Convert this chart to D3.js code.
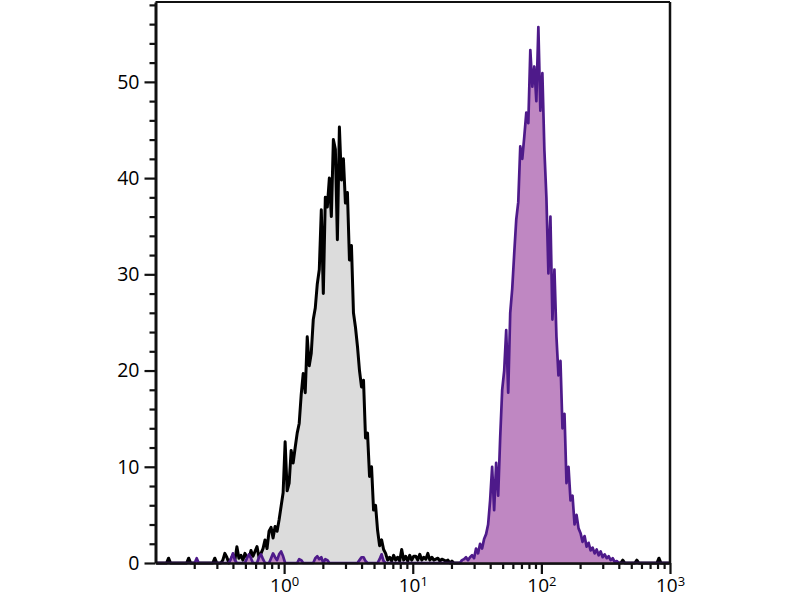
<!DOCTYPE html>
<html>
<head>
<meta charset="utf-8">
<script src="https://cdn.jsdelivr.net/npm/d3@7"></script>
<style>
  html, body { margin: 0; padding: 0; background: #fff; }
  svg { display: block; }
</style>
</head>
<body>
<svg id="chart" width="800" height="600"></svg>
<script>
// 256-channel log histogram spanning 10^-1 .. 10^3
const channelCount = 256;
const logMin = -1;
const logMax = 3;

const yMajorTicks = [0, 10, 20, 30, 40, 50];
const xDecadeTicks = [1, 10, 100, 1000];
const xDecadeExponents = ["0", "1", "2", "3"];

// Isotype control (black outline, grey fill), counts per channel
const controlCounts = [
  0,0,0,0,0,0,0.5,0,0,0,0,0,0,0,0,0,
  0.5,0,0,0,0,0,0,0,0,0,0,0,0,0.5,0,0,
  0,0.3,1.0,0.6,0,0.4,0.8,0.3,1.7,0.5,0.8,0.3,1.0,0.6,0.4,1.3,
  0.7,1.2,1.7,0.6,1.0,1.5,2.4,1.5,3.3,3.7,2.6,3.8,3.3,4.5,5.9,7.3,
  12.6,7.5,8.3,11.7,10.4,12.0,13.5,14.5,17.5,19.7,17.7,23.5,20.5,21.8,25.3,26.5,
  29.0,30.5,36.7,28.0,38.0,37.0,40.0,36.0,44.0,43.0,33.6,45.3,39.8,42.0,37.4,38.5,
  31.5,33.0,26.0,24.5,22.5,20.0,18.3,19.0,13.0,13.5,9.0,10.0,5.5,6.0,3.4,1.8,
  2.4,1.4,1.0,0.3,0.6,0.2,0.8,0.3,0.6,0.2,1.4,0.3,0.7,0.2,0.8,0.3,
  0.7,0.7,0.3,0.9,0.3,0.6,0.4,1.0,0.3,0.6,0.3,0.4,0.5,0.2,0.4,0.3,
  0.2,0.3,0,0.2,0,0,0,0,0,0,0,0,0,0,0,0,
  0,0,0,0,0,0,0,0,0,0,0,0,0,0,0,0,
  0,0,0,0,0,0,0,0,0,0,0,0,0,0,0,0,
  0,0,0,0,0,0,0,0,0,0,0,0,0,0,0,0,
  0,0,0,0,0,0,0,0,0,0,0,0,0,0,0,0,
  0,0,0,0,0,0,0,0,0.3,0,0,0,0,0,0,0.3,
  0,0,0,0,0,0,0,0,0,0,0.5,0,0,0,0,0
];

// Stained sample (purple outline, purple fill), counts per channel
const stainedCounts = [
  0,0,0,0,0,0,0,0,0,0,0,0,0,0,0,0,
  0,0,0,0,0.5,0,0,0,0,0,0,0,0,0,0,0,
  0,0,0,0,0,0.4,1.0,0.3,0,0,0,0,0,0.5,0.9,0.5,
  0,0,0,0.6,0.9,0.4,0,0,0,0.5,1.0,0.6,0.3,0.9,1.2,0.7,
  0,0,0,0,0,0,0,0.4,0.3,0,0,0,0,0,0,0.5,
  0.7,0.4,0.6,0,0.4,0.3,0,0,0,0,0,0,0,0,0,0,
  0,0,0,0,0,0.3,0.6,0.6,0.2,0,0,0,0,0,0,0.4,
  0.9,0.2,0,0,0,0,0,0,0,0,0,0,0,0,0,0,
  0,0,0,0,0,0,0,0,0,0,0,0,0,0,0,0,
  0,0,0,0,0,0,0,0,0.3,0.4,0.6,0.3,0.6,0.8,0.5,1.5,
  1.0,2.0,1.5,2.5,3.0,4.0,6.5,10.0,5.5,10.4,7.0,13.0,18.0,20.0,24.2,17.7,
  26.0,28.5,32.2,35.7,37.5,43.3,42.0,44.3,46.8,45.7,53.3,49.5,51.6,48.0,55.7,47.0,
  50.9,42.9,38.0,30.1,36.0,25.3,30.5,23.5,19.5,21.0,14.0,15.5,8.3,10.0,6.5,7.0,
  4.0,5.0,3.6,3.1,2.2,2.8,1.7,2.1,1.3,1.6,1.0,1.4,0.8,1.2,0.6,0.9,
  0.5,0.7,0.3,0.5,0.1,0.2,0,0,0,0,0,0,0,0,0,0,
  0,0,0,0,0,0,0,0,0,0,0,0,0,0,0,0
];

const svg = d3.select("#chart");
const plotLeft = 155.5, plotRight = 670, plotTop = 2, plotBottom = 563;
const yMax = 58.3;

const x = d3.scaleLog().domain([Math.pow(10, logMin), Math.pow(10, logMax)]).range([plotLeft, plotRight]);
const y = d3.scaleLinear().domain([0, yMax]).range([plotBottom, plotTop]);

function toPoints(counts) {
  const step = (logMax - logMin) / channelCount;
  return counts.map((c, i) => ({ v: Math.pow(10, logMin + (i + 0.5) * step), c }));
}

const area = d3.area().x(d => x(d.v)).y0(y(0)).y1(d => y(d.c));
const line = d3.line().x(d => x(d.v)).y(d => y(d.c));

const plot = svg.append("g");
const ctrl = toPoints(controlCounts);
const stain = toPoints(stainedCounts);

plot.append("path").datum(ctrl).attr("d", area).attr("fill", "#dcdcdc");
plot.append("path").datum(ctrl).attr("d", line).attr("fill", "none")
  .attr("stroke", "#000").attr("stroke-width", 3).attr("stroke-linejoin", "round");
plot.append("path").datum(stain).attr("d", area).attr("fill", "#bf87c2");
plot.append("path").datum(stain).attr("d", line).attr("fill", "none")
  .attr("stroke", "#4e1a8a").attr("stroke-width", 2.7).attr("stroke-linejoin", "round");

// Frame (top and right)
svg.append("line").attr("x1", plotLeft).attr("x2", plotRight).attr("y1", plotTop).attr("y2", plotTop)
  .attr("stroke", "#111").attr("stroke-width", 2);
svg.append("line").attr("x1", plotRight).attr("x2", plotRight).attr("y1", plotTop).attr("y2", plotBottom)
  .attr("stroke", "#111").attr("stroke-width", 2.5);

const fontFam = "'Open Sans', 'DejaVu Sans', sans-serif";

// Y axis: minor ticks
const yMinorVals = d3.range(0, yMax, 2).filter(v => v % 10 !== 0);
const yMinor = svg.append("g").attr("transform", `translate(${plotLeft},0)`)
  .call(d3.axisLeft(y).tickValues(yMinorVals).tickSize(6).tickFormat(""));
yMinor.select(".domain").remove();
yMinor.selectAll("line").attr("stroke", "#111").attr("stroke-width", 2.2);

const yAxis = svg.append("g").attr("transform", `translate(${plotLeft},0)`)
  .call(d3.axisLeft(y).tickValues(yMajorTicks).tickSize(11).tickPadding(5).tickSizeOuter(0));
yAxis.select(".domain").attr("stroke", "#111").attr("stroke-width", 3);
yAxis.selectAll("line").attr("stroke", "#111").attr("stroke-width", 2.2);
yAxis.selectAll("text").attr("font-family", fontFam).attr("font-size", 19.5).attr("fill", "#000");

// X axis: minor ticks
const xMinorVals = [];
[0.1, 1, 10, 100].forEach(d => { for (let k = 2; k <= 9; k++) xMinorVals.push(d * k); });
const xMinor = svg.append("g").attr("transform", `translate(0,${plotBottom})`)
  .call(d3.axisBottom(x).tickValues(xMinorVals).tickSize(6).tickFormat(""));
xMinor.select(".domain").remove();
xMinor.selectAll("line").attr("stroke", "#111").attr("stroke-width", 2.2);

const xAxis = svg.append("g").attr("transform", `translate(0,${plotBottom})`)
  .call(d3.axisBottom(x).tickValues(xDecadeTicks).tickSize(11).tickSizeOuter(0).tickFormat(""));
xAxis.select(".domain").attr("stroke", "#111").attr("stroke-width", 2.5);
xAxis.selectAll("line").attr("stroke", "#111").attr("stroke-width", 2.2);
xAxis.selectAll(".tick").each(function(d, i) {
  const t = d3.select(this).select("text")
    .attr("y", 16).attr("dy", "0.71em")
    .attr("font-family", fontFam).attr("font-size", 19).attr("fill", "#000")
    .attr("text-anchor", "middle");
  t.text(null);
  t.append("tspan").text("10");
  t.append("tspan").attr("font-size", 13).attr("dy", "-0.5em").text(xDecadeExponents[i]);
});
</script>
</body>
</html>
